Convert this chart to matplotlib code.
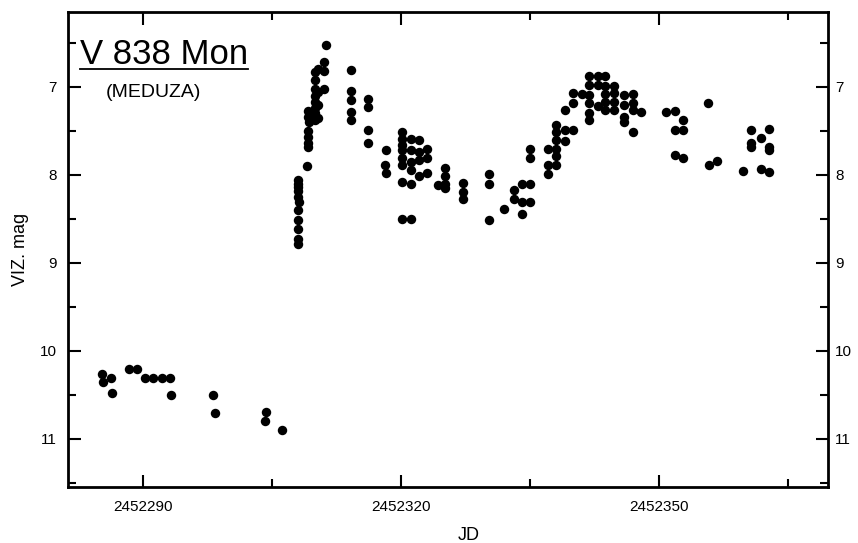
import numpy as np
import matplotlib.pyplot as plt
import matplotlib.ticker as ticker
from matplotlib.lines import Line2D
from matplotlib.transforms import ScaledTranslation

plt.rcParams['font.family'] = ['Liberation Sans', 'DejaVu Sans']

# V838 Mon visual light curve
jd = [
    2452285.2, 2452285.3, 2452286.2, 2452286.3, 2452288.3, 2452289.2, 2452290.2, 2452291.1,
    2452292.1, 2452293.1, 2452293.2, 2452298.1, 2452298.3, 2452304.2, 2452304.1, 2452306.1,
    2452308.0, 2452308.0, 2452308.0, 2452308.0, 2452308.0, 2452308.1, 2452308.0, 2452308.0,
    2452308.0, 2452308.0, 2452308.0,
    2452309.0,
    2452309.1, 2452309.1, 2452309.2, 2452309.1, 2452309.1, 2452309.1, 2452309.1,
    2452310.0, 2452310.0, 2452310.0, 2452310.0, 2452310.0, 2452310.0, 2452310.0, 2452310.0,
    2452310.3, 2452310.3, 2452310.3, 2452310.3,
    2452311.0, 2452311.0, 2452311.0, 2452311.2,
    2452314.1, 2452314.1, 2452314.1, 2452314.1, 2452314.1,
    2452316.1, 2452316.1, 2452316.1, 2452316.1,
    2452318.2, 2452318.1, 2452318.2,
    2452320.1, 2452320.1, 2452320.1, 2452320.1, 2452320.1, 2452320.1, 2452320.1, 2452320.1,
    2452321.1, 2452321.1, 2452321.1, 2452321.1, 2452321.1, 2452321.1,
    2452322.1, 2452322.1, 2452322.1, 2452322.1,
    2452323.0, 2452323.0, 2452323.0,
    2452324.2,
    2452325.1, 2452325.1, 2452325.1, 2452325.1,
    2452327.2, 2452327.2, 2452327.2,
    2452330.2, 2452330.2, 2452330.2,
    2452331.9,
    2452333.1, 2452333.1,
    2452334.0, 2452334.0, 2452334.0,
    2452335.0, 2452335.0, 2452335.0, 2452335.0,
    2452337.0, 2452337.0, 2452337.0,
    2452338.0, 2452338.0, 2452338.0, 2452338.0, 2452338.0, 2452338.0,
    2452339.0, 2452339.0, 2452339.0,
    2452339.9, 2452339.9, 2452339.9,
    2452341.0,
    2452341.8, 2452341.8, 2452341.8, 2452341.8, 2452341.8, 2452341.8,
    2452342.8, 2452342.8, 2452342.8,
    2452343.7, 2452343.7, 2452343.7, 2452343.7, 2452343.7,
    2452344.7, 2452344.7, 2452344.7, 2452344.7,
    2452345.9, 2452345.9, 2452345.9, 2452345.9,
    2452346.9, 2452346.9, 2452346.9, 2452346.9,
    2452347.8,
    2452350.8, 2452351.8, 2452352.8, 2452351.8, 2452352.8, 2452351.8, 2452352.8,
    2452355.7, 2452355.8, 2452356.7,
    2452359.7,
    2452360.7, 2452360.7, 2452360.7,
    2452361.8, 2452361.8,
    2452362.7, 2452362.7, 2452362.7, 2452362.7,
]
mag = [
    10.26, 10.36, 10.31, 10.48, 10.21, 10.21, 10.31, 10.31,
    10.31, 10.31, 10.50, 10.50, 10.71, 10.70, 10.80, 10.90,
    8.06, 8.10, 8.14, 8.19, 8.25, 8.31, 8.40, 8.51,
    8.62, 8.73, 8.79,
    7.90,
    7.28, 7.34, 7.40, 7.50, 7.57, 7.64, 7.69,
    6.83, 6.92, 7.03, 7.10, 7.17, 7.24, 7.30, 7.38,
    6.80, 7.06, 7.21, 7.35,
    6.72, 6.82, 7.03, 6.52,
    6.81, 7.05, 7.15, 7.29, 7.38,
    7.14, 7.23, 7.49, 7.64,
    7.72, 7.89, 7.98,
    7.51, 7.59, 7.66, 7.72, 7.81, 7.89, 8.08, 8.50,
    7.59, 7.72, 7.85, 7.95, 8.10, 8.50,
    7.60, 7.74, 7.83, 8.02,
    7.71, 7.81, 7.98,
    8.12,
    7.92, 8.02, 8.10, 8.15,
    8.09, 8.20, 8.28,
    7.99, 8.11, 8.51,
    8.39,
    8.17, 8.28,
    8.10, 8.31, 8.45,
    7.71, 7.81, 8.10, 8.31,
    7.71, 7.89, 7.99,
    7.43, 7.51, 7.60, 7.71, 7.79, 7.89,
    7.26, 7.49, 7.62,
    7.07, 7.18, 7.49,
    7.08,
    6.88, 6.98, 7.09, 7.19, 7.30, 7.38,
    6.88, 6.98, 7.22,
    6.88, 6.99, 7.08, 7.17, 7.26,
    6.99, 7.07, 7.17, 7.26,
    7.09, 7.21, 7.34, 7.40,
    7.08, 7.19, 7.26, 7.51,
    7.29,
    7.29, 7.28, 7.38, 7.49, 7.49, 7.78, 7.81,
    7.18, 7.89, 7.84,
    7.96,
    7.49, 7.64, 7.68,
    7.58, 7.93,
    7.48, 7.68, 7.72, 7.97,
]

xticks = [2452290, 2452320, 2452350]
yticks = [7, 8, 9, 10, 11]

fig = plt.figure(figsize=(8.58, 5.43), dpi=100)
ax = fig.add_axes([0.079, 0.103, 0.886, 0.875])

ax.plot(jd, mag, 'o', color='black', markersize=6.8, markeredgewidth=0)

ax.set_xlim(2452281.2, 2452369.6)
ax.set_ylim(11.55, 6.15)

ax.xaxis.set_major_locator(ticker.FixedLocator(xticks))
ax.xaxis.set_minor_locator(ticker.MultipleLocator(15))
ax.xaxis.set_major_formatter(ticker.FormatStrFormatter('%d'))
ax.yaxis.set_major_locator(ticker.FixedLocator(yticks))
ax.yaxis.set_minor_locator(ticker.MultipleLocator(0.5))

ax.tick_params(which='both', direction='in', top=True, right=True,
               labelright=True, labelsize=11, width=1.5)
ax.tick_params(which='major', length=9)
ax.tick_params(which='minor', length=6)
ax.tick_params(axis='x', pad=9)
ax.tick_params(axis='y', pad=8)

for s in ax.spines.values():
    s.set_linewidth(2)

ax.set_ylabel('VIZ. mag', fontsize=13, labelpad=8)
ax.set_xlabel('JD', fontsize=13, labelpad=14)
ax.xaxis.set_label_coords(0.528, -0.085)

t = ax.text(0.016, 0.891, 'V 838 Mon', transform=ax.transAxes, fontsize=25,
            ha='left', va='baseline')
ax.text(0.05, 0.821, '(MEDUZA)', transform=ax.transAxes, fontsize=14,
        ha='left', va='baseline')

# underline the star name
fig.canvas.draw()
bb = t.get_window_extent().transformed(fig.transFigure.inverted())
y_ul = bb.y0 + 0.004
fig.add_artist(Line2D([bb.x0, bb.x1], [y_ul, y_ul], transform=fig.transFigure,
                      color='black', linewidth=1.3))

# pull the right-hand labels a bit closer to the frame so "10"/"11" fit
for tk in ax.yaxis.get_major_ticks():
    tk.label2.set_transform(tk.label2.get_transform()
                            + ScaledTranslation(-3 / 72, 0, fig.dpi_scale_trans))

fig.savefig('out.png', dpi=100)
